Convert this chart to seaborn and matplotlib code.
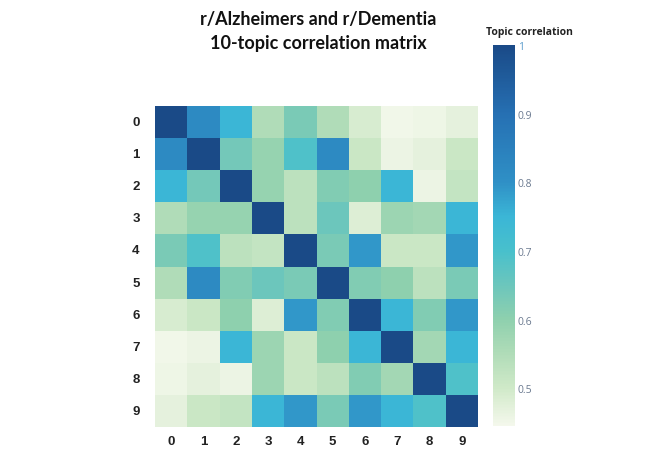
import numpy as np
import pandas as pd
import matplotlib
matplotlib.use("Agg")
import matplotlib.pyplot as plt
from matplotlib.colors import LinearSegmentedColormap
import seaborn as sns

topics = [str(i) for i in range(10)]
row0 = [1.00, 0.82, 0.75, 0.55, 0.63, 0.55, 0.49, 0.45, 0.455, 0.47]
row1 = [0.82, 1.00, 0.64, 0.59, 0.69, 0.82, 0.51, 0.46, 0.47, 0.51]
row2 = [0.75, 0.64, 1.00, 0.59, 0.53, 0.62, 0.60, 0.75, 0.46, 0.52]
row3 = [0.55, 0.59, 0.59, 1.00, 0.53, 0.65, 0.48, 0.58, 0.57, 0.75]
row4 = [0.63, 0.69, 0.53, 0.52, 1.00, 0.63, 0.79, 0.51, 0.51, 0.79]
row5 = [0.55, 0.82, 0.62, 0.65, 0.63, 1.00, 0.62, 0.60, 0.53, 0.63]
row6 = [0.49, 0.51, 0.60, 0.48, 0.79, 0.62, 1.00, 0.75, 0.62, 0.79]
row7 = [0.45, 0.46, 0.75, 0.58, 0.51, 0.60, 0.75, 1.00, 0.57, 0.75]
row8 = [0.455, 0.47, 0.46, 0.58, 0.51, 0.53, 0.62, 0.57, 1.00, 0.69]
row9 = [0.47, 0.51, 0.52, 0.75, 0.79, 0.63, 0.79, 0.75, 0.69, 1.00]
cbar_ticks = [0.5, 0.6, 0.7, 0.8, 0.9, 1.0]
cbar_ticklabels = ["0.5", "0.6", "0.7", "0.8", "0.9", "1"]

# colour scale sampled from the reference colour bar
zmin, zmax = 0.445, 1.0
scale_values = [0.445, 0.47, 0.50, 0.55, 0.60, 0.65, 0.70, 0.75, 0.80, 0.90, 1.00]
scale_colors = ["#f4f8ec", "#e4f1dc", "#cfe9c8", "#b0dcb8", "#8ed0ae", "#6cc6bc",
                "#48c0cc", "#3bb6d6", "#2f90c6", "#2670b3", "#1a4a87"]
cmap = LinearSegmentedColormap.from_list(
    "topic", [((v - zmin) / (zmax - zmin), c) for v, c in zip(scale_values, scale_colors)])

df = pd.DataFrame([row0, row1, row2, row3, row4, row5, row6, row7, row8, row9],
                  index=topics, columns=topics)

sns.set_style("white")
W, H = 666, 452
fig = plt.figure(figsize=(W / 100, H / 100), dpi=100)
ax = fig.add_axes([155 / W, (H - 428) / H, 323 / W, 321 / H])
cax = fig.add_axes([493 / W, (H - 427) / H, 22 / W, 381 / H])

sns.heatmap(df, ax=ax, cbar_ax=cax, cmap=cmap, vmin=zmin, vmax=zmax,
            linewidths=0, cbar_kws={"ticks": cbar_ticks})

ax.set_xticklabels(topics, rotation=0, fontsize=9.5, fontweight="bold",
                   family="Liberation Sans", color="#222222")
ax.set_yticklabels(topics, rotation=0, fontsize=9.5, fontweight="bold",
                   family="Liberation Sans", color="#222222")
ax.tick_params(length=0)
ax.tick_params(axis="x", pad=6)
ax.tick_params(axis="y", pad=11)

cbar = ax.collections[0].colorbar
cbar.outline.set_visible(False)
cax.tick_params(length=0, pad=2)
labels = cax.set_yticklabels(cbar_ticklabels, fontsize=7.5, color="#6b7a90",
                             family="Open Sans")
labels[-1].set_color("#5a9ccc")

fig.text(529 / W, 1 - 32 / H, "Topic correlation", ha="center", va="center",
         fontsize=7.5, fontweight="bold", family="Open Sans", color="#222222")

fig.text(318 / W, 1 - 20 / H, "r/Alzheimers and r/Dementia", ha="center",
         va="center", fontsize=13, fontweight="bold", family="Lato", color="#111111")
fig.text(318 / W, 1 - 43 / H, "10-topic correlation matrix", ha="center",
         va="center", fontsize=13, fontweight="bold", family="Lato", color="#111111")

fig.savefig("out.png", dpi=100)
